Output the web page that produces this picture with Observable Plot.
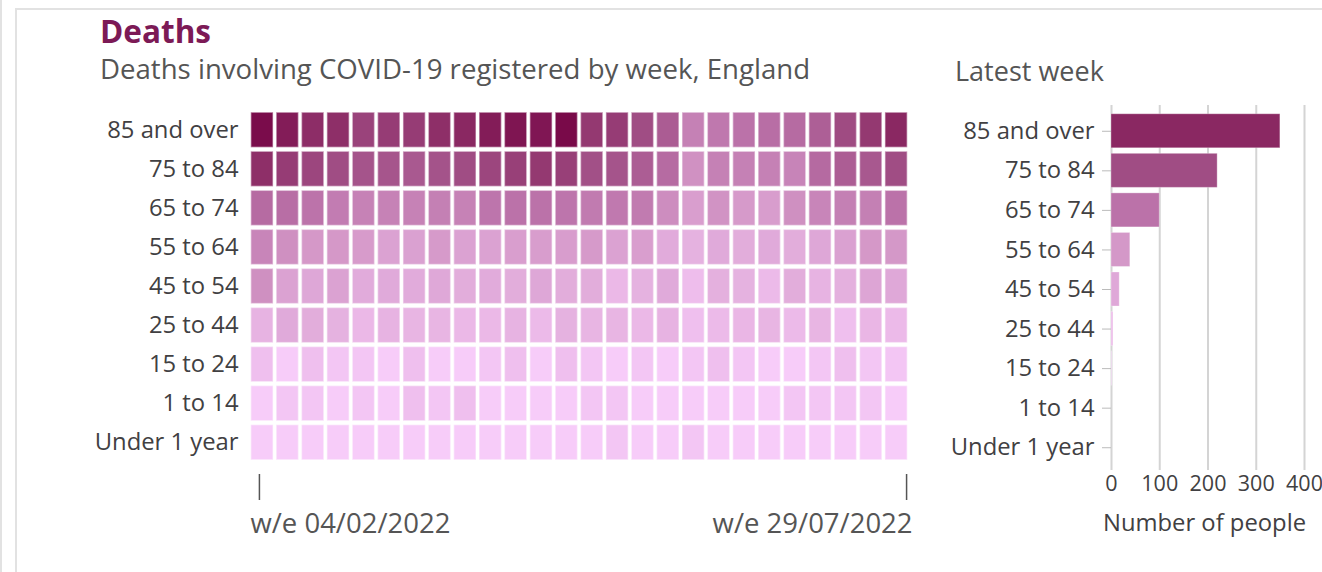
<!DOCTYPE html>
<html><head><meta charset="utf-8">
<script src="https://cdn.jsdelivr.net/npm/d3@7"></script>
<script src="https://cdn.jsdelivr.net/npm/@observablehq/plot@0.6"></script>
<style>
body{margin:0;background:#fff;}
#root{position:relative;width:1322px;height:572px;overflow:hidden;font-family:"Open Sans",sans-serif;color:#414042;background:#fff;}
.edge{position:absolute;background:#e2e2e2;}
.txt{position:absolute;white-space:nowrap;line-height:1;}
</style></head><body>
<div id="root">
  <div class="edge" style="left:0;top:0;width:2px;height:572px"></div>
  <div class="edge" style="left:15px;top:8px;width:2px;height:564px"></div>
  <div class="edge" style="left:15px;top:8px;width:1307px;height:2px"></div>
  <div class="txt" style="left:100px;top:15px;font-size:31.5px;font-weight:700;color:#7c1a56">Deaths</div>
  <div class="txt" style="left:100px;top:55px;font-size:27.6px;color:#555">Deaths involving COVID-19 registered by week, England</div>
  <div class="txt" style="left:955px;top:57px;font-size:27px;color:#555">Latest week</div>
  <div id="heat" style="position:absolute;left:0;top:0"></div>
  <div id="bars" style="position:absolute;left:940px;top:0"></div>
  <div class="txt" style="left:1103px;top:511px;font-size:23.8px;color:#414042">Number of people</div>
</div>
<script>
// Age groups (rows, top to bottom)
const ages = ["85 and over","75 to 84","65 to 74","55 to 64","45 to 54","25 to 44","15 to 24","1 to 14","Under 1 year"];
// Weeks ending (columns)
const weeks = ["04/02/2022","11/02/2022","18/02/2022","25/02/2022","04/03/2022","11/03/2022","18/03/2022","25/03/2022",
  "01/04/2022","08/04/2022","15/04/2022","22/04/2022","29/04/2022","06/05/2022","13/05/2022","20/05/2022","27/05/2022",
  "03/06/2022","10/06/2022","17/06/2022","24/06/2022","01/07/2022","08/07/2022","15/07/2022","22/07/2022","29/07/2022"];
// Deaths per week by age group
const age85plus = [660,486,332,326,255,279,279,326,350,486,563,544,680,291,279,220,171,76,90,100,113,122,162,226,291,350];
const age75to84 = [326,279,244,220,198,193,180,202,220,244,267,291,267,211,198,167,122,50,76,76,76,71,127,167,184,220];
const age65to74 = [122,113,98,83,74,74,74,78,74,95,100,100,95,86,88,86,57,30,47,36,32,52,69,78,78,100];
const age55to64 = [69,52,38,38,34,25,27,36,25,25,30,32,32,36,25,30,14,9,15,13,15,13,19,27,38,39];
const age45to54 = [52,25,19,25,14,15,14,17,13,14,13,19,13,13,5,9,15,3,10,9,4,13,8,10,21,17];
const age25to44 = [8,15,13,9,5,8,7,7,5,5,8,4,9,7,7,5,8,2,4,6,7,4,7,2,6,4];
const age15to24 = [2,0,2,1,1,0,2,0,0,1,2,0,2,1,0,1,0,1,2,1,0,0,1,2,1,1];
const age1to14  = [0,1,1,0,1,0,2,1,2,0,0,0,0,1,1,0,0,0,0,0,0,1,1,1,1,0];
const ageUnder1 = [0,0,0,0,0,0,0,0,0,0,0,0,0,0,1,0,0,1,0,0,0,0,0,0,0,0];
// Bar-chart x ticks
const barTicks = [0,100,200,300,400];

const series = [age85plus,age75to84,age65to74,age55to64,age45to54,age25to44,age15to24,age1to14,ageUnder1];
const table = ages.flatMap((a,i)=>weeks.map((w,j)=>({age:a, week:w, value:series[i][j]})));
const latest = ages.map((a,i)=>({age:a, value:series[i][weeks.length-1]}));

const colorScale = {
  type:"linear",
  domain:[0,2,5,10,17,40,100,220,350,700],
  range:["#f7ccf9","#efbfee","#ebb8e7","#e4b0de","#dfa8d8","#d497c7","#bb72a9","#a04d84","#8a2862","#780848"],
  interpolate:"rgb"
};

const heat = Plot.plot({
  width:920, height:560,
  marginLeft:250, marginRight:12, marginTop:111, marginBottom:99,
  style:{fontFamily:"Open Sans", fontSize:"23.8px", color:"#414042", background:"transparent", overflow:"visible"},
  x:{domain:weeks, paddingInner:0.12, paddingOuter:0.03, round:false, axis:null},
  y:{domain:ages, paddingInner:0.1, paddingOuter:0.03, round:false, axis:null},
  color:colorScale,
  marks:[
    Plot.cell(table,{x:"week", y:"age", fill:"value", stroke:"white", strokeOpacity:0.45, strokeWidth:1.5}),
    Plot.axisY({tickSize:0, tickPadding:12, label:null, fontSize:23.8}),
    Plot.axisX({ticks:[weeks[0]], tickSize:26, fill:"none", label:null, dy:13, dx:-3, stroke:"#555", strokeWidth:1.5}),
    Plot.axisX({ticks:[weeks[weeks.length-1]], tickSize:26, fill:"none", label:null, dy:13, dx:10, stroke:"#555", strokeWidth:1.5}),
    Plot.axisX({ticks:[weeks[0]], tickSize:0, tickPadding:52, tickFormat:d=>"w/e "+d, textAnchor:"start", dx:-12, fontSize:27.5, label:null, fill:"#555"}),
    Plot.axisX({ticks:[weeks[weeks.length-1]], tickSize:0, tickPadding:52, tickFormat:d=>"w/e "+d, textAnchor:"end", dx:16, fontSize:27.5, label:null, fill:"#555"})
  ]
});
document.getElementById("heat").append(heat);

const bars = Plot.plot({
  width:382, height:560,
  marginLeft:171, marginRight:18, marginTop:105, marginBottom:90,
  style:{fontFamily:"Open Sans", fontSize:"23.8px", color:"#414042", background:"transparent", overflow:"visible"},
  x:{domain:[0,400], round:false, axis:null},
  y:{domain:ages, insetTop:6, insetBottom:3, paddingInner:0.14, paddingOuter:0.07, round:false, axis:null},
  color:colorScale,
  marks:[
    Plot.gridX({ticks:barTicks, stroke:"#d4d4d4", strokeOpacity:1, strokeWidth:2}),
    Plot.barX(latest,{x:"value", y:"age", fill:"value", stroke:"white", strokeOpacity:0.3}),
    Plot.axisY({tickSize:9, tickPadding:8, stroke:"#bbb", fontSize:23.8, label:null}),
    Plot.axisX({ticks:barTicks, tickSize:0, tickPadding:5, fontSize:21.5, label:null})
  ]
});
document.getElementById("bars").append(bars);
</script>
</body></html>
